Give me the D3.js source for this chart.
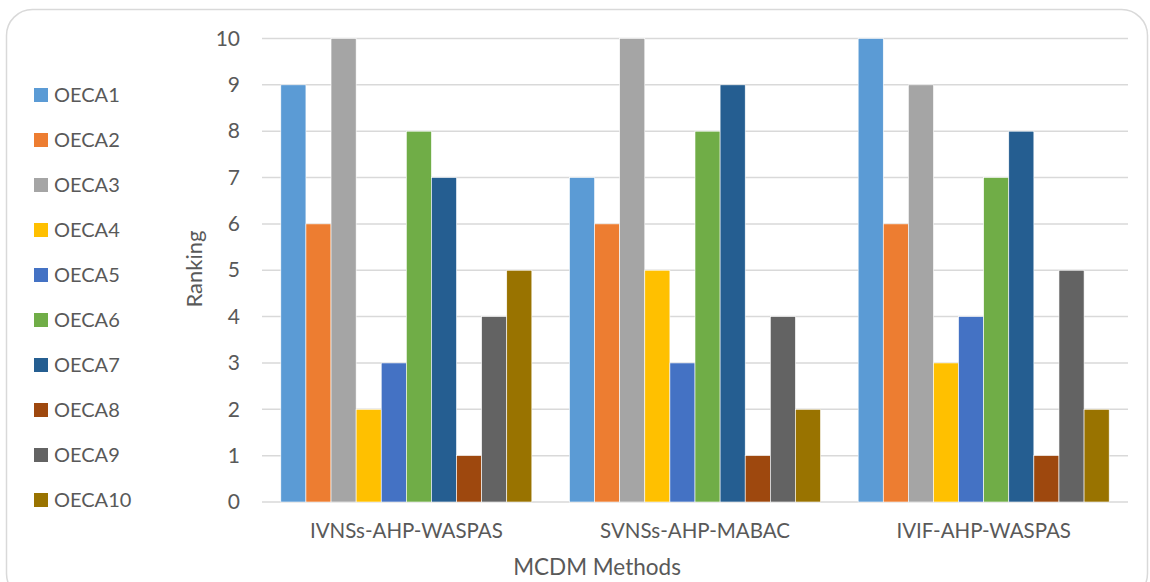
<!DOCTYPE html>
<html><head><meta charset="utf-8">
<script src="https://cdn.jsdelivr.net/npm/d3@7"></script>
<style>body{margin:0;background:#fff}svg{display:block}text{font-family:Lato,sans-serif;fill:#595959}</style>
</head><body><svg id="c" width="1150" height="582"></svg>
<script>
const categories = ["IVNSs-AHP-WASPAS","SVNSs-AHP-MABAC","IVIF-AHP-WASPAS"];
const seriesNames = ["OECA1","OECA2","OECA3","OECA4","OECA5","OECA6","OECA7","OECA8","OECA9","OECA10"];
const OECA1 = [9,7,10];
const OECA2 = [6,6,6];
const OECA3 = [10,10,9];
const OECA4 = [2,5,3];
const OECA5 = [3,3,4];
const OECA6 = [8,8,7];
const OECA7 = [7,9,8];
const OECA8 = [1,1,1];
const OECA9 = [4,4,5];
const OECA10 = [5,2,2];
const seriesValues = [OECA1,OECA2,OECA3,OECA4,OECA5,OECA6,OECA7,OECA8,OECA9,OECA10];
const colors = ["#5B9BD5","#ED7D31","#A5A5A5","#FFC000","#4472C4","#70AD47","#255E91","#9E480E","#636363","#997300"];
const yTicks = [0,1,2,3,4,5,6,7,8,9,10];

const FF = "Lato,sans-serif";
const svg = d3.select("#c");
svg.append("rect").attr("x",6.5).attr("y",9.5).attr("width",1141).attr("height",590).attr("rx",26)
  .attr("fill","#fff").attr("stroke","#D9D9D9").attr("stroke-width",1.5);

const L=262, R=1128, T=38.5, B=502;
const x0 = d3.scaleBand().domain(categories).range([L,R]).paddingInner(0).paddingOuter(0);
const bw = x0.bandwidth()/11.5;
const x1 = d3.scaleBand().domain(seriesNames).range([bw*0.75, x0.bandwidth()-bw*0.75]).padding(0);
const y = d3.scaleLinear().domain([0,10]).range([B,T]);

const grid = svg.append("g");
grid.selectAll("line").data(yTicks).join("line")
  .attr("x1",L).attr("x2",R).attr("y1",d=>y(d)).attr("y2",d=>y(d))
  .attr("stroke","#D9D9D9").attr("stroke-width",1.5);

const yAxis = svg.append("g").attr("transform",`translate(${L},0)`)
  .call(d3.axisLeft(y).tickValues(yTicks).tickSize(0).tickPadding(22));
yAxis.select(".domain").remove();
yAxis.selectAll("text").attr("font-size",21).attr("fill","#595959").style("font-family",FF);

const xAxis = svg.append("g").attr("transform",`translate(0,${B})`)
  .call(d3.axisBottom(x0).tickSize(0).tickPadding(21));
xAxis.select(".domain").remove();
xAxis.selectAll("text").attr("font-size",20.5).attr("fill","#595959").style("font-family",FF);

const groups = svg.append("g").selectAll("g").data(categories).join("g")
  .attr("transform",d=>`translate(${x0(d)},0)`);
groups.selectAll("rect").data((d,i)=>seriesNames.map((s,j)=>({s,j,v:seriesValues[j][i]}))).join("rect")
  .attr("x",d=>x1(d.s)).attr("width",x1.bandwidth())
  .attr("y",d=>y(d.v)).attr("height",d=>B-y(d.v))
  .attr("fill",d=>colors[d.j]).attr("stroke","#fff").attr("stroke-width",0.6);

svg.append("text").attr("x",597).attr("y",575).attr("text-anchor","middle").attr("font-size",22.5).text("MCDM Methods");
svg.append("text").attr("transform","translate(202,269) rotate(-90)").attr("text-anchor","middle").attr("font-size",22).text("Ranking");

const leg = svg.append("g").selectAll("g").data(seriesNames).join("g")
  .attr("transform",(d,i)=>`translate(34,${95+45*i})`);
leg.append("rect").attr("x",0).attr("y",-7).attr("width",14).attr("height",14).attr("fill",(d,i)=>colors[i]);
leg.append("text").attr("x",20).attr("y",0).attr("dy","0.36em").attr("font-size",20).text(d=>d);
</script></body></html>
